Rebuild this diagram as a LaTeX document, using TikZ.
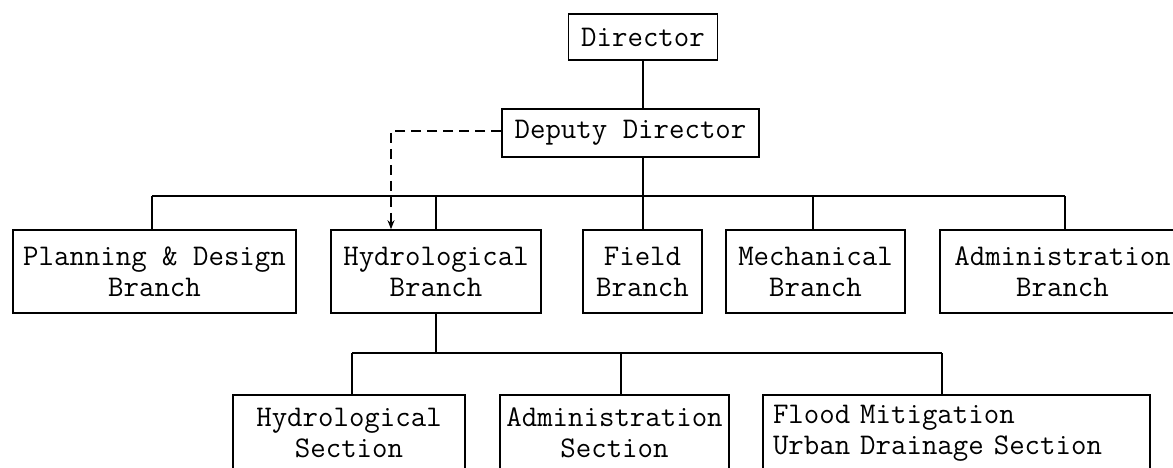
\documentclass[tikz,border=0pt]{standalone}
\usepackage{fontspec}
\usetikzlibrary{arrows.meta}
\begin{document}
\begin{tikzpicture}[x=1pt,y=-1pt,
  box/.style={draw, line width=1.6pt, inner sep=0pt, align=center,
    font=\ttfamily\fontsize{30}{31}\selectfont},
  link/.style={line width=1.6pt},
  advisory/.style={line width=2pt, dash pattern=on 10pt off 6pt,
    -{Stealth[length=9pt,width=7pt]}}]
\useasboundingbox (0,0) rectangle (1173,468);
\clip (0,0) rectangle (1173,468);

% top management
\node[box, minimum width=149pt, minimum height=46pt] (dir) at (643,37) {Director};
\node[box, minimum width=257pt, minimum height=48pt] (dep) at (630.5,133) {Deputy Director};

% branches
\node[box, minimum width=283pt, minimum height=83pt] (pd) at (154.5,271.5) {Planning \& Design\\Branch};
\node[box, minimum width=210pt, minimum height=83pt] (hb) at (436,271.5) {Hydrological\\Branch};
\node[box, minimum width=119pt, minimum height=83pt] (fb) at (642.5,271.5) {Field\\Branch};
\node[box, minimum width=179pt, minimum height=83pt] (mb) at (815.5,271.5) {Mechanical\\Branch};
\node[box, minimum width=245pt, minimum height=83pt] (ab) at (1062.5,271.5) {Administration\\Branch};

% sections under the hydrological branch
\node[box, minimum width=232pt, minimum height=76pt] (hs) at (349,433) {Hydrological\\Section};
\node[box, minimum width=229pt, minimum height=76pt] (as) at (614.5,433) {Administration\\Section};
\node[box, align=left, text width=367pt, inner xsep=10pt, minimum height=76pt] (fs) at (956.5,433) {Flood Mitigation\\Urban Drainage Section};

% branch bus
\coordinate (b1) at (152,196);
\coordinate (b2) at (436,196);
\coordinate (b3) at (643,196);
\coordinate (b4) at (813,196);
\coordinate (b5) at (1065,196);
% section bus
\coordinate (s0) at (436,353);
\coordinate (s1) at (352,353);
\coordinate (s2) at (621,353);
\coordinate (s3) at (942,353);
% advisory line corner
\coordinate (d1) at (391,131);

\draw[link] (dir.south) -- (dir.south |- dep.north);
\draw[link] (b3 |- dep.south) -- (b3);
\draw[link] (b1) -- (b5);
\draw[link] (b1) -- (b1 |- pd.north);
\draw[link] (b2) -- (b2 |- hb.north);
\draw[link] (b3) -- (b3 |- fb.north);
\draw[link] (b4) -- (b4 |- mb.north);
\draw[link] (b5) -- (b5 |- ab.north);

\draw[link] (hb.south) -- (s0);
\draw[link] (s1) -- (s3);
\draw[link] (s1) -- (s1 |- hs.north);
\draw[link] (s2) -- (s2 |- as.north);
\draw[link] (s3) -- (s3 |- fs.north);

\draw[advisory] (dep.west |- d1) -- (d1) -- (d1 |- hb.north);
\end{tikzpicture}
\end{document}
